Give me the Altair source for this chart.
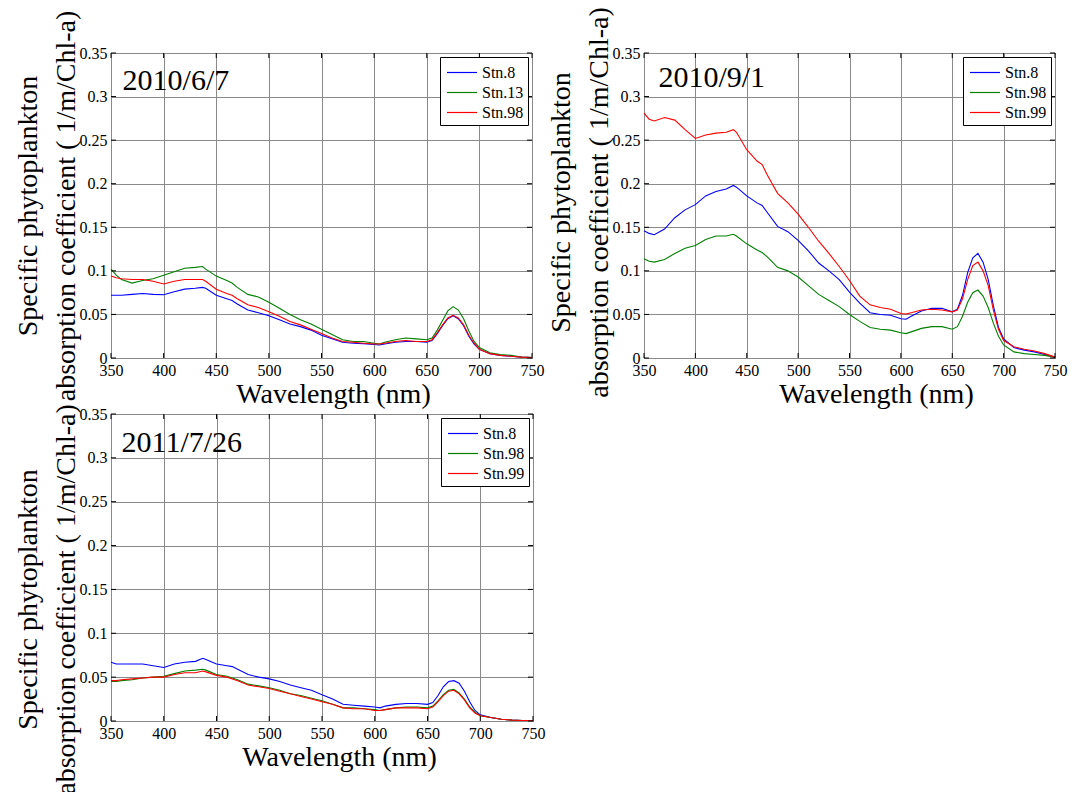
import altair as alt
import pandas as pd

FONT = "Liberation Serif"

wavelength = [350, 355, 360, 370, 380, 390, 400, 410, 420, 430,
              437, 440, 450, 460, 465, 470, 480, 490, 500, 510,
              520, 530, 540, 550, 560, 570, 580, 590, 600, 605,
              610, 620, 630, 640, 650, 655, 660, 665, 670, 675,
              680, 685, 690, 695, 700, 710, 720, 730, 740, 750]

# Panel 1: 2010/6/7
p1_names = ["Stn.8", "Stn.13", "Stn.98"]
p1_stn8 = [0.072, 0.072, 0.072, 0.073, 0.074, 0.073, 0.0725, 0.076, 0.079, 0.080,
           0.081, 0.080, 0.072, 0.068, 0.066, 0.062, 0.055, 0.052, 0.0485, 0.044,
           0.039, 0.036, 0.032, 0.026, 0.022, 0.018, 0.017, 0.0165, 0.0155, 0.015,
           0.016, 0.018, 0.019, 0.019, 0.018, 0.020, 0.028, 0.037, 0.045, 0.0485,
           0.045, 0.037, 0.025, 0.016, 0.010, 0.005, 0.003, 0.002, 0.001, 0.0005]
p1_stn13 = [0.102, 0.095, 0.090, 0.086, 0.089, 0.091, 0.095, 0.099, 0.103, 0.104,
            0.105, 0.102, 0.094, 0.089, 0.086, 0.081, 0.073, 0.070, 0.064, 0.057,
            0.050, 0.044, 0.039, 0.033, 0.027, 0.021, 0.019, 0.019, 0.017, 0.016,
            0.018, 0.021, 0.023, 0.022, 0.021, 0.023, 0.032, 0.043, 0.054, 0.059,
            0.055, 0.045, 0.031, 0.019, 0.012, 0.006, 0.004, 0.003, 0.001, 0.0005]
p1_stn98 = [0.094, 0.092, 0.091, 0.090, 0.090, 0.088, 0.085, 0.088, 0.090, 0.090,
            0.090, 0.088, 0.079, 0.074, 0.072, 0.068, 0.061, 0.058, 0.053, 0.048,
            0.042, 0.038, 0.033, 0.028, 0.023, 0.019, 0.018, 0.017, 0.016, 0.016,
            0.017, 0.019, 0.020, 0.019, 0.019, 0.021, 0.029, 0.038, 0.046, 0.049,
            0.046, 0.038, 0.026, 0.017, 0.010, 0.005, 0.003, 0.002, 0.001, 0.0005]

# Panel 2: 2010/9/1
p2_names = ["Stn.8", "Stn.98", "Stn.99"]
p2_stn8 = [0.146, 0.143, 0.1415, 0.148, 0.161, 0.170, 0.176, 0.186, 0.191, 0.194,
           0.198, 0.196, 0.186, 0.178, 0.175, 0.167, 0.151, 0.145, 0.135, 0.123,
           0.109, 0.100, 0.090, 0.0755, 0.063, 0.052, 0.050, 0.049, 0.045, 0.0445,
           0.048, 0.054, 0.057, 0.057, 0.053, 0.056, 0.072, 0.098, 0.115, 0.120,
           0.110, 0.090, 0.060, 0.035, 0.022, 0.012, 0.009, 0.007, 0.004, 0.001]
p2_stn98 = [0.114, 0.111, 0.110, 0.113, 0.120, 0.126, 0.129, 0.136, 0.140, 0.140,
            0.142, 0.140, 0.131, 0.124, 0.121, 0.116, 0.104, 0.100, 0.093, 0.083,
            0.073, 0.066, 0.059, 0.050, 0.042, 0.035, 0.033, 0.032, 0.029, 0.028,
            0.030, 0.034, 0.036, 0.036, 0.033, 0.036, 0.048, 0.064, 0.075, 0.078,
            0.071, 0.058, 0.040, 0.025, 0.015, 0.007, 0.005, 0.004, 0.003, 0.001]
p2_stn99 = [0.281, 0.274, 0.272, 0.276, 0.273, 0.262, 0.252, 0.256, 0.258, 0.259,
            0.262, 0.259, 0.239, 0.226, 0.222, 0.210, 0.189, 0.178, 0.165, 0.150,
            0.134, 0.120, 0.105, 0.089, 0.071, 0.061, 0.058, 0.056, 0.051, 0.0505,
            0.052, 0.055, 0.056, 0.055, 0.053, 0.055, 0.068, 0.090, 0.106, 0.110,
            0.100, 0.083, 0.055, 0.033, 0.020, 0.013, 0.010, 0.008, 0.005, 0.001]

# Panel 3: 2011/7/26
p3_names = ["Stn.8", "Stn.98", "Stn.99"]
p3_stn8 = [0.067, 0.065, 0.065, 0.065, 0.065, 0.063, 0.061, 0.065, 0.067, 0.068,
           0.0715, 0.070, 0.065, 0.063, 0.062, 0.059, 0.053, 0.050, 0.048, 0.045,
           0.041, 0.038, 0.035, 0.030, 0.025, 0.019, 0.018, 0.017, 0.016, 0.015,
           0.017, 0.019, 0.020, 0.020, 0.019, 0.021, 0.029, 0.039, 0.045, 0.046,
           0.043, 0.034, 0.022, 0.012, 0.007, 0.004, 0.002, 0.001, 0.0005, 0.0005]
p3_stn98 = [0.045, 0.045, 0.046, 0.047, 0.049, 0.050, 0.051, 0.054, 0.057, 0.058,
            0.059, 0.058, 0.053, 0.051, 0.049, 0.047, 0.042, 0.040, 0.038, 0.035,
            0.031, 0.029, 0.026, 0.023, 0.019, 0.015, 0.015, 0.014, 0.013, 0.012,
            0.013, 0.015, 0.016, 0.016, 0.015, 0.017, 0.023, 0.030, 0.035, 0.036,
            0.032, 0.025, 0.016, 0.010, 0.006, 0.004, 0.002, 0.001, 0.0005, 0.0005]
p3_stn99 = [0.046, 0.046, 0.047, 0.048, 0.049, 0.050, 0.050, 0.053, 0.055, 0.055,
            0.057, 0.056, 0.052, 0.050, 0.048, 0.046, 0.041, 0.039, 0.037, 0.034,
            0.031, 0.028, 0.025, 0.022, 0.019, 0.015, 0.014, 0.014, 0.012, 0.012,
            0.013, 0.015, 0.015, 0.015, 0.014, 0.016, 0.022, 0.029, 0.034, 0.035,
            0.031, 0.024, 0.015, 0.009, 0.006, 0.004, 0.002, 0.001, 0.0005, 0.0005]

dates = ["2010/6/7", "2010/9/1", "2011/7/26"]
date_wl = [361, 364, 360]
date_val = [0.307, 0.311, 0.307]

x_ticks = [350, 400, 450, 500, 550, 600, 650, 700, 750]
y_ticks = [0, 0.05, 0.1, 0.15, 0.2, 0.25, 0.3, 0.35]
line_colors = ["#0000ff", "#008000", "#ff0000"]

y_title = ["Specific phytoplankton", "absorption coefficient ( 1/m/Chl-a)"]

AXIS_STYLE = dict(labelFont=FONT, labelFontSize=16, labelColor="black", labelPadding=4,
                  titleFont=FONT, titleFontSize=28, titleFontWeight="normal",
                  titleColor="black", grid=True, gridColor="#8a8a8a", gridOpacity=1,
                  gridWidth=1, domain=False, ticks=False)


def panel(names, series, date, dwl, dval, width, height, xtitle_x, ytitle_y=None):
    rows = []
    for name, vals in zip(names, series):
        assert len(vals) == len(wavelength)
        for w, v in zip(wavelength, vals):
            rows.append({"wl": w, "val": v, "stn": name})
    df = pd.DataFrame(rows)
    xs = alt.Scale(domain=[350, 750], nice=False, zero=False)
    ys = alt.Scale(domain=[0, 0.35], nice=False)
    ykw = dict(values=y_ticks, format=".2~f", title=y_title, titleX=-75,
               titleBaseline="alphabetic", titleLineHeight=38, titleAngle=270, **AXIS_STYLE)
    if ytitle_y is not None:
        ykw["titleY"] = ytitle_y
    xaxis = alt.Axis(values=x_ticks, title="Wavelength (nm)", titleX=xtitle_x,
                     titleY=44, titleBaseline="alphabetic", labelFlush=False, **AXIS_STYLE)
    yaxis = alt.Axis(**ykw)
    lines = alt.Chart(df).mark_line(strokeWidth=1.1).encode(
        x=alt.X("wl:Q", scale=xs, axis=xaxis),
        y=alt.Y("val:Q", scale=ys, axis=yaxis),
        color=alt.Color("stn:N", scale=alt.Scale(domain=names, range=line_colors),
                        legend=alt.Legend(title=None, orient="top-right", offset=4)),
    )
    ann = alt.Chart(pd.DataFrame({"wl": [dwl], "val": [dval], "label": [date]})).mark_text(
        align="left", baseline="alphabetic", font=FONT, fontSize=30, color="black"
    ).encode(x=alt.X("wl:Q", scale=xs, axis=xaxis), y=alt.Y("val:Q", scale=ys, axis=yaxis),
             text="label:N")
    xt = pd.DataFrame({"wl": x_ticks, "v0": [0.0] * len(x_ticks), "v1": [0.35] * len(x_ticks)})
    yt = pd.DataFrame({"val": y_ticks, "w0": [350] * len(y_ticks), "w1": [750] * len(y_ticks)})
    tick_bottom = alt.Chart(xt).mark_rule(color="black", strokeWidth=1, y2Offset=-5).encode(
        x=alt.X("wl:Q", scale=xs, axis=xaxis), y=alt.Y("v0:Q", scale=ys, axis=yaxis), y2="v0:Q")
    tick_top = alt.Chart(xt).mark_rule(color="black", strokeWidth=1, y2Offset=5).encode(
        x=alt.X("wl:Q", scale=xs, axis=xaxis), y=alt.Y("v1:Q", scale=ys, axis=yaxis), y2="v1:Q")
    tick_left = alt.Chart(yt).mark_rule(color="black", strokeWidth=1, x2Offset=5).encode(
        y=alt.Y("val:Q", scale=ys, axis=yaxis), x=alt.X("w0:Q", scale=xs, axis=xaxis), x2="w0:Q")
    tick_right = alt.Chart(yt).mark_rule(color="black", strokeWidth=1, x2Offset=-5).encode(
        y=alt.Y("val:Q", scale=ys, axis=yaxis), x=alt.X("w1:Q", scale=xs, axis=xaxis), x2="w1:Q")
    return alt.layer(lines, ann, tick_bottom, tick_top, tick_left, tick_right).properties(
        width=width, height=height)


c1 = panel(p1_names, [p1_stn8, p1_stn13, p1_stn98], dates[0], date_wl[0], date_val[0],
           421, 305, 222)
c2 = panel(p2_names, [p2_stn8, p2_stn98, p2_stn99], dates[1], date_wl[1], date_val[1],
           411, 305, 232, 149)
c3 = panel(p3_names, [p3_stn8, p3_stn98, p3_stn99], dates[2], date_wl[2], date_val[2],
           422, 307, 228, 185)

chart = alt.concat(c1, c2, c3, columns=2, spacing={"row": 56, "column": 111},
                   bounds="flush", align="each").resolve_scale(
    color="independent").properties(
    padding={"left": 13, "top": 6, "right": 4, "bottom": 0},
    background="white",
).configure_view(stroke="black", strokeWidth=1).configure_axis(
    **AXIS_STYLE
).configure_text(font=FONT).configure_legend(
    labelFont=FONT, labelFontSize=16, labelColor="black", strokeColor="black",
    fillColor="white", padding=4, symbolType="M-0.81,0H2.05", symbolSize=441,
    symbolStrokeWidth=1.2, labelOffset=15, rowPadding=0,
)

chart.save("out.html", embed_options={"renderer": "svg", "actions": False})
